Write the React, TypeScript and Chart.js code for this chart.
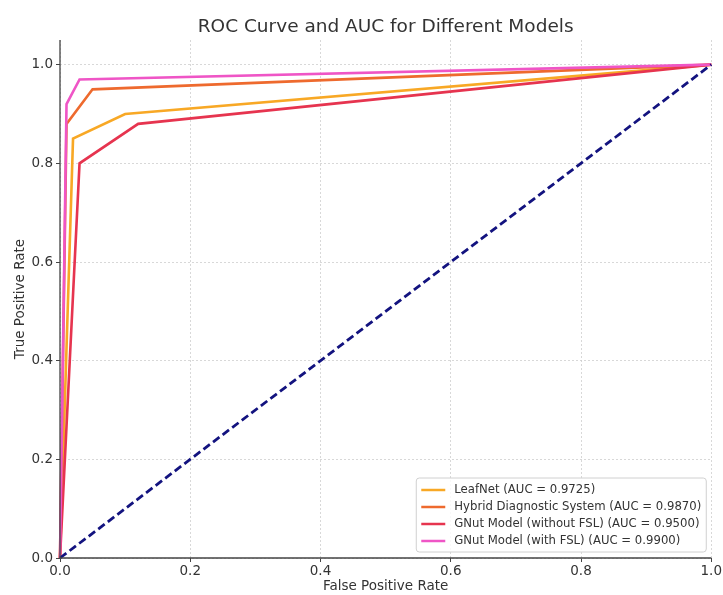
import React, { useEffect, useRef } from "react";
import { Chart, registerables } from "chart.js";

Chart.register(...registerables);

const TITLE = "ROC Curve and AUC for Different Models";
const X_TITLE = "False Positive Rate";
const Y_TITLE = "True Positive Rate";

const modelLabels = [
  "LeafNet (AUC = 0.9725)",
  "Hybrid Diagnostic System (AUC = 0.9870)",
  "GNut Model (without FSL) (AUC = 0.9500)",
  "GNut Model (with FSL) (AUC = 0.9900)",
];
const modelColors = ["#f8a825", "#ee6a2e", "#e6344f", "#ef55c6"];

const fprLeafNet = [0, 0.02, 0.1, 1];
const tprLeafNet = [0, 0.85, 0.9, 1];
const fprHybrid = [0, 0.01, 0.05, 1];
const tprHybrid = [0, 0.88, 0.95, 1];
const fprNoFSL = [0, 0.03, 0.12, 1];
const tprNoFSL = [0, 0.8, 0.88, 1];
const fprFSL = [0, 0.01, 0.03, 1];
const tprFSL = [0, 0.92, 0.97, 1];

const diagX = [0, 1];
const diagY = [0, 1];

const xTicks = [0, 0.2, 0.4, 0.6, 0.8, 1.0];
const yTicks = [0, 0.2, 0.4, 0.6, 0.8, 1.0];

const FONT = "'DejaVu Sans', sans-serif";
const TEXT = "#333333";

const toPts = (xs: number[], ys: number[]) => xs.map((x, i) => ({ x, y: ys[i] }));

const legendPlugin = {
  id: "customLegend",
  afterDraw(chart: any) {
    const { ctx, chartArea } = chart;
    const fs = 11.7;
    const rowH = 17;
    const n = modelLabels.length;
    const boxW = 290;
    const boxH = rowH * n + 6;
    const right = chartArea.right - 5;
    const bottom = chartArea.bottom - 6;
    const left = right - boxW;
    const top = bottom - boxH;
    ctx.save();
    ctx.beginPath();
    const r = 3;
    ctx.moveTo(left + r, top);
    ctx.lineTo(right - r, top);
    ctx.quadraticCurveTo(right, top, right, top + r);
    ctx.lineTo(right, bottom - r);
    ctx.quadraticCurveTo(right, bottom, right - r, bottom);
    ctx.lineTo(left + r, bottom);
    ctx.quadraticCurveTo(left, bottom, left, bottom - r);
    ctx.lineTo(left, top + r);
    ctx.quadraticCurveTo(left, top, left + r, top);
    ctx.closePath();
    ctx.fillStyle = "rgba(255,255,255,0.85)";
    ctx.fill();
    ctx.strokeStyle = "#d0d0d0";
    ctx.lineWidth = 1;
    ctx.stroke();
    ctx.font = `${fs}px ${FONT}`;
    ctx.textBaseline = "middle";
    ctx.textAlign = "left";
    for (let i = 0; i < n; i++) {
      const y = top + 12 + i * rowH;
      ctx.beginPath();
      ctx.moveTo(left + 5, y);
      ctx.lineTo(left + 29, y);
      ctx.strokeStyle = modelColors[i];
      ctx.lineWidth = 2.5;
      ctx.stroke();
      ctx.fillStyle = TEXT;
      ctx.fillText(modelLabels[i], left + 38, y);
    }
    ctx.restore();
  },
};

const spinePlugin = {
  id: "spines",
  afterDatasetsDraw(chart: any) {
    const { ctx, chartArea } = chart;
    ctx.save();
    ctx.strokeStyle = "#444444";
    ctx.lineWidth = 1.3;
    ctx.beginPath();
    ctx.moveTo(chartArea.left, chartArea.top);
    ctx.lineTo(chartArea.left, chartArea.bottom);
    ctx.lineTo(chartArea.right, chartArea.bottom);
    ctx.stroke();
    ctx.restore();
  },
};

export default function App() {
  const ref = useRef<HTMLCanvasElement | null>(null);

  useEffect(() => {
    if (!ref.current) return;
    const series = [
      { xs: fprLeafNet, ys: tprLeafNet },
      { xs: fprHybrid, ys: tprHybrid },
      { xs: fprNoFSL, ys: tprNoFSL },
      { xs: fprFSL, ys: tprFSL },
    ];
    const datasets: any[] = series.map((s, i) => ({
      label: modelLabels[i],
      data: toPts(s.xs, s.ys),
      borderColor: modelColors[i],
      backgroundColor: modelColors[i],
      borderWidth: 2.6,
      pointRadius: 0,
      showLine: true,
      tension: 0,
      clip: false,
      order: 5 - i,
    }));
    datasets.push({
      label: "diagonal",
      data: toPts(diagX, diagY),
      borderColor: "#13137f",
      borderWidth: 2.8,
      borderDash: [8, 4],
      pointRadius: 0,
      showLine: true,
      clip: false,
      order: 0,
    });

    const chart = new Chart(ref.current, {
      type: "scatter",
      data: { datasets },
      plugins: [spinePlugin, legendPlugin],
      options: {
        animation: false,
        responsive: true,
        maintainAspectRatio: false,
        layout: { padding: { left: 0, right: 11, top: 0, bottom: 0 } },
        plugins: {
          legend: { display: false },
          tooltip: { enabled: false },
          title: {
            display: true,
            text: TITLE,
            fullSize: false,
            color: TEXT,
            font: { family: FONT, size: 18.5, weight: "normal" },
            padding: { top: 16, bottom: 1.8 },
          },
        },
        scales: {
          x: {
            type: "linear",
            min: 0,
            max: 1,
            afterBuildTicks: (s: any) => {
              s.ticks = xTicks.map((v) => ({ value: v }));
            },
            afterFit: (s: any) => {
              s.height = 37;
            },
            ticks: {
              color: TEXT,
              font: { family: FONT, size: 13.5 },
              padding: 1,
              maxRotation: 0,
              callback: (v: any) => Number(v).toFixed(1),
            },
            grid: {
              color: "#cfcfcf",
              lineWidth: 0.8,
              drawTicks: true,
              tickLength: 4,
              tickColor: "#444444",
              tickWidth: 1,
              tickBorderDash: [],
            },
            border: { display: false, dash: [2, 2] },
            title: {
              display: true,
              text: X_TITLE,
              color: TEXT,
              font: { family: FONT, size: 13.5 },
              padding: { top: 0, bottom: 0 },
            },
          },
          y: {
            type: "linear",
            min: 0,
            max: 1.05,
            afterBuildTicks: (s: any) => {
              s.ticks = yTicks.map((v) => ({ value: v }));
            },
            afterFit: (s: any) => {
              s.width = 60;
            },
            ticks: {
              color: TEXT,
              font: { family: FONT, size: 13.5 },
              padding: 3,
              callback: (v: any) => Number(v).toFixed(1),
            },
            grid: {
              color: "#cfcfcf",
              lineWidth: 0.8,
              drawTicks: true,
              tickLength: 4,
              tickColor: "#444444",
              tickWidth: 1,
              tickBorderDash: [],
            },
            border: { display: false, dash: [2, 2] },
            title: {
              display: true,
              text: Y_TITLE,
              color: TEXT,
              font: { family: FONT, size: 13.5 },
              padding: { top: 12, bottom: 0 },
            },
          },
        },
      } as any,
    });
    return () => chart.destroy();
  }, []);

  return (
    <div style={{ position: "fixed", left: 0, top: 0, width: 723, height: 595, background: "#fff" }}>
      <canvas ref={ref} />
    </div>
  );
}
